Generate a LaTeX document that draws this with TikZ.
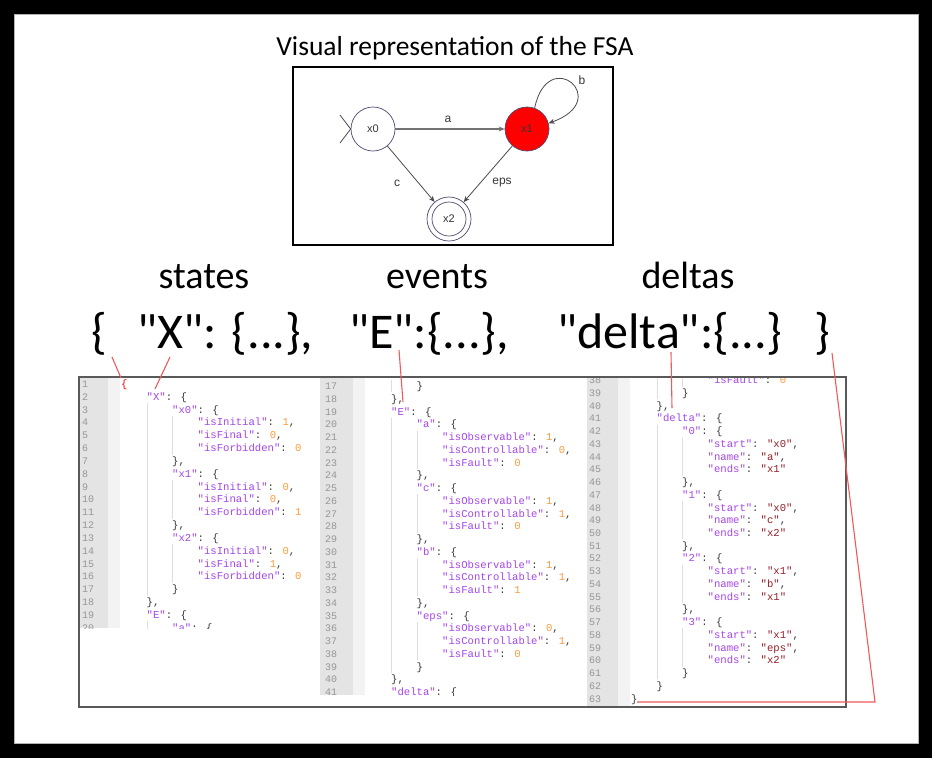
\documentclass[tikz,border=0pt]{standalone}
\usepackage{fontspec}
\setmainfont{Carlito}
\newfontfamily\bigfont{Carlito}
\newfontfamily\codefont{Liberation Mono}
\newfontfamily\arialfont{Liberation Sans}
\usetikzlibrary{arrows.meta}
\definecolor{kcol}{RGB}{165,70,235}
\definecolor{ncol}{RGB}{255,155,60}
\definecolor{scol}{RGB}{150,30,40}
\definecolor{pcol}{RGB}{55,55,55}
\definecolor{lncol}{RGB}{150,150,150}
\definecolor{gut}{RGB}{228,228,228}
\definecolor{gutl}{RGB}{243,243,243}
\definecolor{guide}{RGB}{222,222,222}
\definecolor{redl}{RGB}{238,90,90}
\definecolor{stroke}{RGB}{75,75,115}
\definecolor{edgec}{RGB}{75,75,75}
\newcommand\jk[1]{\textcolor{kcol}{"#1"}}
\newcommand\jn[1]{\textcolor{ncol}{#1}}
\newcommand\js[1]{\textcolor{scol}{"#1"}}
% column 1: level0 x=121, line1 centre 384, pitch 12.83
\newcommand\codeA[3]{\node[codeln] (a#1) at ({121+25.5*#2},{387.5+12.83*(#1-1)}) {#3};
  \node[lnum] (na#1) at (82,{387.5+12.83*(#1-1)}) {#1};}
\newcommand\guideA[3]{\draw[guideln] ({121.5+25.5*#1},{384+12.83*(#2-1)-6.4}) -- ({121.5+25.5*#1},{384+12.83*(#3-1)+6.4});}
% column 2: level0 x=365.5, line17 centre 386, pitch 12.75
\newcommand\codeB[3]{\node[codeln] (b#1) at ({365.5+25.5*#2},{389.5+12.75*(#1-17)}) {#3};
  \node[lnum] (nb#1) at (325,{389.5+12.75*(#1-17)}) {#1};}
\newcommand\guideB[3]{\draw[guideln] ({366+25.5*#1},{386+12.75*(#2-17)-6.4}) -- ({366+25.5*#1},{386+12.75*(#3-17)+6.4});}
% column 3: level0 x=631, line39 centre 393, pitch 12.73
\newcommand\codeC[3]{\node[codeln] (c#1) at ({631+25.5*#2},{396.5+12.73*(#1-39)}) {#3};
  \node[lnum] (nc#1) at (589,{396.5+12.73*(#1-39)}) {#1};}
\newcommand\guideC[3]{\draw[guideln] ({631.5+25.5*#1},{393+12.73*(#2-39)-6.4}) -- ({631.5+25.5*#1},{393+12.73*(#3-39)+6.4});}
\begin{document}
\begin{tikzpicture}[x=1pt,y=-1pt,
  codeln/.style={anchor=base west, inner sep=0pt, font=\codefont\fontsize{10.6}{12}\selectfont, text=pcol},
  lnum/.style={anchor=base west, inner sep=0pt, font=\codefont\fontsize{10}{12}\selectfont, text=lncol},
  guideln/.style={draw=guide, line width=0.8pt},
  redln/.style={draw=redl, line width=1.1pt},
  state/.style={circle, draw=stroke, line width=0.7pt, minimum size=44pt, inner sep=0pt, font=\arialfont\fontsize{11}{13}\selectfont, text=pcol},
  edge/.style={draw=edgec, line width=0.8pt, -{Stealth[length=6pt,width=5pt]}},
  lbl/.style={font=\arialfont\fontsize{12}{14}\selectfont, text=pcol, inner sep=0pt},
  bigtxt/.style={anchor=base west, inner sep=0pt, font=\bigfont\fontsize{50}{60}\selectfont},
  midtxt/.style={anchor=base, inner sep=0pt, font=\fontsize{38}{44}\selectfont},
]
\useasboundingbox (0,0) rectangle (932,758);
\fill[black] (0,0) rectangle (932,758);
\fill[white] (14,14) rectangle (919,744);
\draw[black!30, line width=0.8pt] (14.4,14.4) rectangle (918.6,743.6);

% ---------- title and FSA ----------
\node[anchor=base, inner sep=0pt, font=\fontsize{27.5}{32}\selectfont] (title) at (455,55) {Visual representation of the FSA};
\draw[black, line width=2pt] (293,67) rectangle (613,245);

\node[state] (x0) at (373,129) {x0};
\node[state, fill=red] (x1) at (527,129) {x1};
\node[state] (x2) at (449,219) {};
\node[circle, draw=stroke, line width=0.7pt, minimum size=34pt, inner sep=0pt, font=\arialfont\fontsize{11}{13}\selectfont, text=pcol] (x2in) at (449,219) {x2};

\coordinate (iu) at (340,115);
\coordinate (il) at (340,143);
\draw[edgec, line width=0.8pt] (iu) -- (x0.west) -- (il);

\draw[edge, draw=black!55, line width=1.6pt] (x0) -- (x1);
\node[lbl] (la) at (448,119) {a};
\draw[edge] (x1.70) .. controls (548,44) and (614,100) .. (x1.15);
\node[lbl] (lb) at (582,80) {b};
\draw[edge] (x0) -- (x2);
\node[lbl] (lc) at (397,183) {c};
\draw[edge] (x1) -- (x2);
\node[lbl] (leps) at (502,183) {eps};

% ---------- labels ----------
\node[midtxt] (states) at (204,288) {states};
\node[midtxt] (events) at (437,288) {events};
\node[midtxt] (deltas) at (688,288) {deltas};

\node[bigtxt] (bopen) at (91,348) {\{};
\node[bigtxt] (bX) at (137,348) {"X": \{...\},};
\node[bigtxt] (bE) at (349,348) {"E":\{...\},};
\node[bigtxt] (bdelta) at (557,348) {"delta":\{...\}};
\node[bigtxt] (bclose) at (814,348) {\}};

% ---------- code panels ----------
\begin{scope}
\clip (80,378) rectangle (318,628);
\fill[gut] (80,378) rectangle (108,628);
\fill[gutl] (108,378) rectangle (120,628);
\guideA{1}{3}{17}
\guideA{1}{20}{20}
\guideA{2}{4}{6}
\guideA{2}{9}{11}
\guideA{2}{14}{16}
\codeA{1}{0}{\textcolor{red}{\{}}
\codeA{2}{1}{\jk{X}: \{}
\codeA{3}{2}{\jk{x0}: \{}
\codeA{4}{3}{\jk{isInitial}: \jn{1},}
\codeA{5}{3}{\jk{isFinal}: \jn{0},}
\codeA{6}{3}{\jk{isForbidden}: \jn{0}}
\codeA{7}{2}{\},}
\codeA{8}{2}{\jk{x1}: \{}
\codeA{9}{3}{\jk{isInitial}: \jn{0},}
\codeA{10}{3}{\jk{isFinal}: \jn{0},}
\codeA{11}{3}{\jk{isForbidden}: \jn{1}}
\codeA{12}{2}{\},}
\codeA{13}{2}{\jk{x2}: \{}
\codeA{14}{3}{\jk{isInitial}: \jn{0},}
\codeA{15}{3}{\jk{isFinal}: \jn{1},}
\codeA{16}{3}{\jk{isForbidden}: \jn{0}}
\codeA{17}{2}{\}}
\codeA{18}{1}{\},}
\codeA{19}{1}{\jk{E}: \{}
\codeA{20}{2}{\jk{a}: \{}
\end{scope}

\begin{scope}
\clip (320,378) rectangle (585,695);
\fill[gut] (320,378) rectangle (353,695);
\fill[gutl] (353,378) rectangle (365,695);
\guideB{1}{17}{17}
\guideB{1}{20}{39}
\guideB{2}{21}{23}
\guideB{2}{26}{28}
\guideB{2}{31}{33}
\guideB{2}{36}{38}
\codeB{17}{2}{\}}
\codeB{18}{1}{\},}
\codeB{19}{1}{\jk{E}: \{}
\codeB{20}{2}{\jk{a}: \{}
\codeB{21}{3}{\jk{isObservable}: \jn{1},}
\codeB{22}{3}{\jk{isControllable}: \jn{0},}
\codeB{23}{3}{\jk{isFault}: \jn{0}}
\codeB{24}{2}{\},}
\codeB{25}{2}{\jk{c}: \{}
\codeB{26}{3}{\jk{isObservable}: \jn{1},}
\codeB{27}{3}{\jk{isControllable}: \jn{1},}
\codeB{28}{3}{\jk{isFault}: \jn{0}}
\codeB{29}{2}{\},}
\codeB{30}{2}{\jk{b}: \{}
\codeB{31}{3}{\jk{isObservable}: \jn{1},}
\codeB{32}{3}{\jk{isControllable}: \jn{1},}
\codeB{33}{3}{\jk{isFault}: \jn{1}}
\codeB{34}{2}{\},}
\codeB{35}{2}{\jk{eps}: \{}
\codeB{36}{3}{\jk{isObservable}: \jn{0},}
\codeB{37}{3}{\jk{isControllable}: \jn{1},}
\codeB{38}{3}{\jk{isFault}: \jn{0}}
\codeB{39}{2}{\}}
\codeB{40}{1}{\},}
\codeB{41}{1}{\jk{delta}: \{}
\end{scope}

\begin{scope}
\clip (587,378) rectangle (845,706);
\fill[gut] (587,378) rectangle (618,706);
\fill[gutl] (618,378) rectangle (630,706);
\guideC{1}{38}{39}
\guideC{1}{42}{61}
\guideC{2}{38}{38}
\guideC{2}{43}{45}
\guideC{2}{48}{50}
\guideC{2}{53}{55}
\guideC{2}{58}{60}
\codeC{38}{3}{\jk{isFault}: \jn{0}}
\codeC{39}{2}{\}}
\codeC{40}{1}{\},}
\codeC{41}{1}{\jk{delta}: \{}
\codeC{42}{2}{\jk{0}: \{}
\codeC{43}{3}{\jk{start}: \js{x0},}
\codeC{44}{3}{\jk{name}: \js{a},}
\codeC{45}{3}{\jk{ends}: \js{x1}}
\codeC{46}{2}{\},}
\codeC{47}{2}{\jk{1}: \{}
\codeC{48}{3}{\jk{start}: \js{x0},}
\codeC{49}{3}{\jk{name}: \js{c},}
\codeC{50}{3}{\jk{ends}: \js{x2}}
\codeC{51}{2}{\},}
\codeC{52}{2}{\jk{2}: \{}
\codeC{53}{3}{\jk{start}: \js{x1},}
\codeC{54}{3}{\jk{name}: \js{b},}
\codeC{55}{3}{\jk{ends}: \js{x1}}
\codeC{56}{2}{\},}
\codeC{57}{2}{\jk{3}: \{}
\codeC{58}{3}{\jk{start}: \js{x1},}
\codeC{59}{3}{\jk{name}: \js{eps},}
\codeC{60}{3}{\jk{ends}: \js{x2}}
\codeC{61}{2}{\}}
\codeC{62}{1}{\}}
\codeC{63}{0}{\}}
\end{scope}

\draw[black!65, line width=1.2pt] (79,377) rectangle (846,707);

% ---------- red connectors ----------
\coordinate (r1s) at (112,357);
\coordinate (r1e) at (121,378);
\coordinate (r2s) at (170,357);
\coordinate (r2e) at (155,389);
\coordinate (r3s) at (399,350);
\coordinate (r3e) at (403,402);
\coordinate (r4s) at (671,352);
\coordinate (r4e) at (672,408);
\coordinate (r5s) at (832,353);
\coordinate (r5m) at (875,702);
\coordinate (r5e) at (637,702);
\draw[redln] (r1s) -- (r1e);
\draw[redln] (r2s) -- (r2e);
\draw[redln] (r3s) -- (r3e);
\draw[redln] (r4s) -- (r4e);
\draw[redln] (r5s) -- (r5m) -- (r5e);
\end{tikzpicture}
\end{document}
